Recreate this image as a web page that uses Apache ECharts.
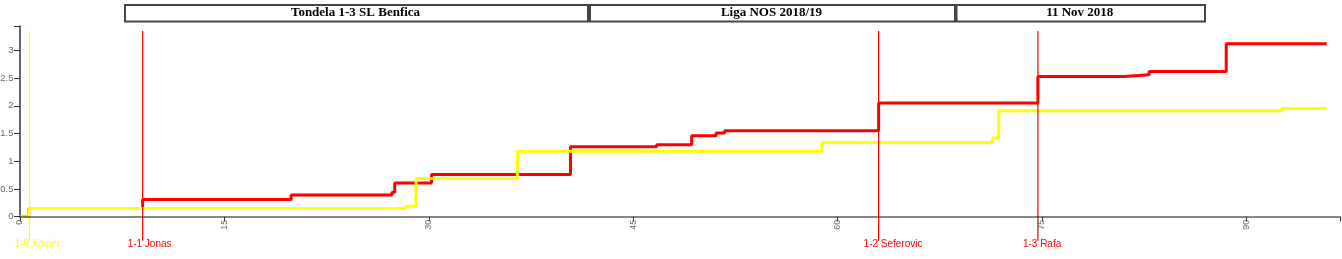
<!DOCTYPE html>
<html>
<head>
<meta charset="utf-8">
<script src="https://cdn.jsdelivr.net/npm/echarts@6/dist/echarts.min.js"></script>
<style>
html,body{margin:0;padding:0;background:#fff;}
#chart{width:1342px;height:259px;}
</style>
</head>
<body>
<div id="chart"></div>
<script>
// Header texts
const headerTexts = ['Tondela 1-3 SL Benfica', 'Liga NOS 2018/19', '11 Nov 2018'];

// Cumulative xG, Tondela (yellow)
const tondelaMinutes = [0, 0.64, 28.33, 29.06, 36.5, 58.85, 71.38, 71.82, 92.61, 95.89];
const tondelaXg      = [0, 0.15, 0.19, 0.69, 1.18, 1.34, 1.42, 1.91, 1.95, 1.95];

// Cumulative xG, SL Benfica (red)
const benficaMinutes = [0, 0.64, 9.0, 19.9, 27.3, 27.5, 30.2, 40.4, 46.72, 49.29, 51.08, 51.71, 63.01, 74.7, 81.02, 82.86, 88.52, 95.89];
const benficaXg      = [0, 0.15, 0.31, 0.39, 0.44, 0.61, 0.76, 1.26, 1.30, 1.46, 1.51, 1.55, 2.05, 2.53, 2.56, 2.62, 3.12, 3.12];

// Goals
const goalMinutes = [0.7, 9.0, 63.01, 74.7];
const goalLabels  = ['1-0 Xavier', '1-1 Jonas', '1-2 Seferovic', '1-3 Rafa'];
const goalTeams   = ['Tondela', 'Benfica', 'Benfica', 'Benfica'];

// Axis settings
const xTicks = [0, 15, 30, 45, 60, 75, 90];
const yTicks = [0, 0.5, 1, 1.5, 2, 2.5, 3];
const xMax = 96.87;
const yMax = 3.44;

const teamColor = { Tondela: '#ffff00', Benfica: '#ff0000' };

const chart = echarts.init(document.getElementById('chart'), null, { renderer: 'canvas' });

const boxes = [
  { x: 124, w: 463 },
  { x: 589, w: 365 },
  { x: 955.5, w: 248.5 }
];
const graphics = [];
boxes.forEach((b, i) => {
  graphics.push({
    type: 'rect', left: b.x, top: 4,
    shape: { x: 0, y: 0, width: b.w, height: 16.5 },
    style: { fill: '#fff', stroke: '#444', lineWidth: 2 }
  });
  graphics.push({
    type: 'text', x: b.x + b.w / 2, y: 12.5,
    style: {
      text: headerTexts[i], fill: '#000',
      font: 'bold 13px "Liberation Serif", "Times New Roman", serif',
      textAlign: 'center', textVerticalAlign: 'middle'
    }
  });
});

const zip = (a, b) => a.map((v, i) => [v, b[i]]);

chart.setOption({
  animation: false,
  graphic: graphics,
  grid: { left: 20, right: 2, top: 26, bottom: 42.3, containLabel: false, outerBoundsMode: 'none' },
  xAxis: {
    type: 'value', min: 0, max: xMax, interval: 15, z: 10,
    axisLine: { lineStyle: { color: 'rgba(0,0,0,0.47)', width: 2 } },
    axisTick: { length: 5, lineStyle: { color: '#333' } },
    splitLine: { show: false },
    axisLabel: {
      rotate: 90, fontSize: 9, color: '#666', margin: 3,
      fontFamily: 'Arial, "Liberation Sans", sans-serif',
      formatter: v => xTicks.includes(v) ? String(v) : ''
    }
  },
  yAxis: {
    type: 'value', min: 0, max: yMax, interval: 0.5,
    axisLine: { show: true, lineStyle: { color: '#333', width: 1.5 } },
    axisTick: { show: true, length: 6, lineStyle: { color: '#333' } },
    splitLine: { show: false },
    axisLabel: {
      fontSize: 9.5, color: '#666', margin: 6.5,
      fontFamily: 'Arial, "Liberation Sans", sans-serif',
      formatter: v => yTicks.includes(v) ? String(v) : ''
    }
  },
  series: [
    {
      name: 'SL Benfica', type: 'line', step: 'end', symbol: 'none',
      data: zip(benficaMinutes, benficaXg),
      lineStyle: { color: teamColor.Benfica, width: 3 }, z: 2
    },
    {
      name: 'Tondela', type: 'line', step: 'end', symbol: 'none',
      data: zip(tondelaMinutes, tondelaXg),
      lineStyle: { color: teamColor.Tondela, width: 3 }, z: 3
    },
    {
      name: 'Goals', type: 'custom', z: 5, clip: false,
      data: goalMinutes.map((m, i) => [m, i]),
      renderItem: (params, api) => {
        const i = api.value(1);
        const x = api.coord([api.value(0), 0])[0];
        const top = api.coord([0, yMax])[1] + 5;
        const base = api.coord([0, 0])[1];
        const col = teamColor[goalTeams[i]];
        return {
          type: 'group',
          children: [
            { type: 'line', shape: { x1: x, y1: top, x2: x, y2: base + 24 },
              style: { stroke: col, lineWidth: 1.2 } },
            { type: 'text', x: x - 15, y: base + 28,
              style: { text: goalLabels[i], fill: col,
                font: '10px Arial, "Liberation Sans", sans-serif',
                textAlign: 'left', textVerticalAlign: 'middle' } }
          ]
        };
      }
    }
  ]
});
</script>
</body>
</html>
